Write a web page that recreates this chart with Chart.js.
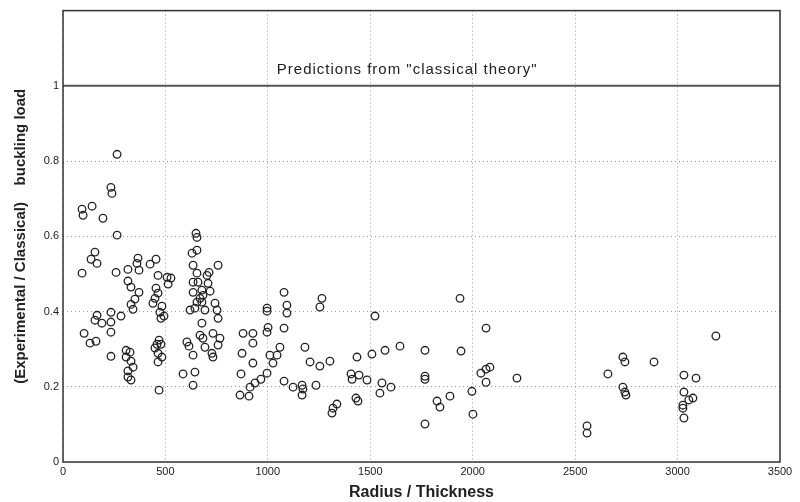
<!DOCTYPE html>
<html>
<head>
<meta charset="utf-8">
<script src="https://cdn.jsdelivr.net/npm/chart.js@4/dist/chart.umd.min.js"></script>
<style>
  html, body { margin: 0; padding: 0; background: #fff; }
  #wrap { width: 800px; height: 502px; }
</style>
</head>
<body>
<div id="wrap"><canvas id="scatterChart"></canvas></div>
<script>
// radius / thickness of each tested shell
const radiusThickness = [
  264, 234, 239, 93, 142, 98, 195, 264, 156, 137, 166, 93, 259, 166, 156, 190, 234, 234, 234, 103,
  132, 161, 234, 283, 317, 366, 361, 371, 317, 332, 371, 351, 332, 342, 308, 327, 308, 332, 342, 317,
  317, 332, 454, 425, 464, 508, 527, 513, 454, 464, 449, 439, 483, 473, 493, 478, 469, 459, 478, 449,
  464, 483, 464, 469, 649, 654, 654, 630, 635, 654, 713, 757, 703, 635, 659, 678, 718, 635, 683, 654,
  678, 742, 752, 757, 644, 693, 678, 669, 732, 683, 766, 693, 757, 727, 732, 635, 644, 635, 605, 615,
  586, 620, 669, 708, 996, 996, 1079, 1093, 1093, 1001, 996, 1079, 879, 927, 927, 874, 1010, 1045, 1059, 927,
  1025, 996, 966, 869, 937, 913, 864, 908, 1079, 1123, 1167, 1171, 1235, 1167, 1181, 1264, 1254, 1206, 1254, 1303,
  1435, 1508, 1523, 1406, 1445, 1411, 1484, 1430, 1440, 1337, 1318, 1313, 1572, 1645, 1767, 1943, 1938, 1557, 1601, 1547,
  1767, 1767, 1826, 1840, 1889, 1767, 1996, 2001, 2065, 2084, 2065, 2040, 2065, 2216, 2558, 2558, 2660, 2733, 2743, 2885,
  2733, 2743, 2748, 3031, 3090, 3031, 3075, 3055, 3026, 3026, 3031, 3187
];

// experimental / classical buckling load
const bucklingRatio = [
  0.818, 0.730, 0.714, 0.672, 0.680, 0.656, 0.648, 0.603, 0.558, 0.539, 0.528, 0.502, 0.504, 0.390, 0.377, 0.369, 0.398, 0.372, 0.345, 0.342,
  0.316, 0.321, 0.281, 0.388, 0.512, 0.542, 0.528, 0.510, 0.481, 0.465, 0.451, 0.433, 0.419, 0.406, 0.297, 0.292, 0.279, 0.268, 0.252, 0.242,
  0.226, 0.218, 0.539, 0.526, 0.496, 0.491, 0.489, 0.473, 0.462, 0.449, 0.435, 0.422, 0.414, 0.398, 0.388, 0.382, 0.324, 0.313, 0.313, 0.303,
  0.289, 0.279, 0.266, 0.191, 0.608, 0.597, 0.563, 0.555, 0.523, 0.502, 0.504, 0.523, 0.496, 0.478, 0.478, 0.457, 0.454, 0.451, 0.443, 0.425,
  0.425, 0.422, 0.404, 0.382, 0.409, 0.404, 0.369, 0.337, 0.342, 0.329, 0.329, 0.305, 0.311, 0.289, 0.279, 0.284, 0.239, 0.204, 0.319, 0.308,
  0.234, 0.404, 0.435, 0.475, 0.409, 0.401, 0.451, 0.417, 0.396, 0.358, 0.345, 0.356, 0.342, 0.342, 0.316, 0.289, 0.284, 0.284, 0.305, 0.263,
  0.263, 0.236, 0.220, 0.234, 0.210, 0.199, 0.178, 0.175, 0.215, 0.199, 0.204, 0.194, 0.204, 0.178, 0.305, 0.435, 0.412, 0.266, 0.255, 0.268,
  0.279, 0.287, 0.388, 0.234, 0.231, 0.220, 0.218, 0.170, 0.162, 0.154, 0.143, 0.130, 0.297, 0.308, 0.297, 0.295, 0.435, 0.210, 0.199, 0.183,
  0.228, 0.220, 0.162, 0.146, 0.175, 0.101, 0.188, 0.127, 0.356, 0.252, 0.247, 0.236, 0.212, 0.223, 0.096, 0.077, 0.234, 0.279, 0.266, 0.266,
  0.199, 0.186, 0.178, 0.231, 0.223, 0.186, 0.170, 0.165, 0.151, 0.143, 0.117, 0.335
];

const classicalLevel = 1;
const classicalLabel = 'Predictions from "classical theory"';
const xTitle = "Radius / Thickness";
const yTitle = "(Experimental / Classical)    buckling load";

const points = radiusThickness.map((x, i) => ({ x: x, y: bucklingRatio[i] }));

// box round the plot area + label over the classical line
const framePlugin = {
  id: "frame",
  afterDatasetsDraw(chart) {
    const { ctx, chartArea, scales } = chart;
    ctx.save();
    ctx.strokeStyle = "#333";
    ctx.lineWidth = 1.5;
    ctx.strokeRect(chartArea.left, chartArea.top, chartArea.right - chartArea.left, chartArea.bottom - chartArea.top);
    ctx.fillStyle = "#222";
    ctx.font = "15px 'Liberation Sans', Arial, sans-serif";
    ctx.letterSpacing = "1px";
    ctx.textAlign = "center";
    ctx.textBaseline = "alphabetic";
    ctx.fillText(classicalLabel, scales.x.getPixelForValue(1680), scales.y.getPixelForValue(classicalLevel) - 12);
    ctx.restore();
  },
};

new Chart(document.getElementById("scatterChart"), {
  type: "scatter",
  data: {
    datasets: [
      {
        label: "tests",
        data: points,
        pointStyle: "circle",
        pointRadius: 3.8,
        pointBorderWidth: 1.3,
        pointBorderColor: "#222",
        pointBackgroundColor: "rgba(255,255,255,0)",
      },
      {
        label: "classical",
        type: "line",
        data: [
          { x: 0, y: classicalLevel },
          { x: 3500, y: classicalLevel },
        ],
        borderColor: "#555",
        borderWidth: 2,
        pointRadius: 0,
      },
    ],
  },
  options: {
    responsive: true,
    maintainAspectRatio: false,
    animation: false,
    layout: { padding: { top: 10, right: 20, left: 0, bottom: 0 } },
    plugins: {
      legend: { display: false },
      tooltip: { enabled: false },
    },
    scales: {
      x: {
        type: "linear",
        min: 0,
        max: 3500,
        afterFit: (scale) => { scale.height = 40; },
        ticks: {
          stepSize: 500,
          color: "#222",
          font: { family: "'Liberation Sans', Arial", size: 11 },
          padding: 3,
          callback: (v) => String(v),
        },
        grid: { color: "#999", lineWidth: 1, tickLength: 0 },
        border: { display: false, dash: [1, 3] },
        title: {
          display: true,
          text: xTitle,
          color: "#222",
          font: { family: "'Liberation Sans', Arial", size: 16, weight: "bold" },
          padding: { top: 0, bottom: 0 },
        },
      },
      y: {
        min: 0,
        max: 1.2,
        afterFit: (scale) => { scale.width = 63; },
        ticks: {
          stepSize: 0.2,
          color: "#222",
          font: { family: "'Liberation Sans', Arial", size: 11 },
          padding: 4,
          callback: (v) => (v > 1.01 ? "" : String(Number(v.toFixed(1)))),
        },
        grid: { color: "#999", lineWidth: 1, tickLength: 0 },
        border: { display: false, dash: [1, 3] },
        title: {
          display: true,
          text: yTitle,
          color: "#222",
          font: { family: "'Liberation Sans', Arial", size: 15, weight: "bold" },
          padding: { top: 12, bottom: 0 },
        },
      },
    },
  },
  plugins: [framePlugin],
});
</script>
</body>
</html>
